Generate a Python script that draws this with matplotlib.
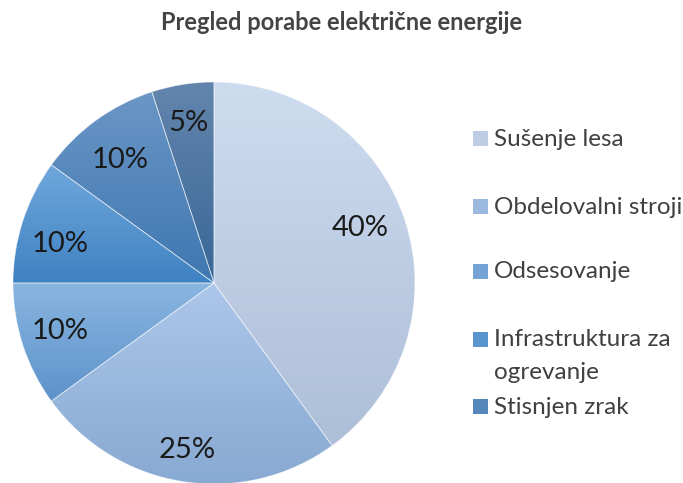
import matplotlib
matplotlib.use("Agg")
import matplotlib.pyplot as plt
import numpy as np
from matplotlib.colors import LinearSegmentedColormap, to_rgb
from matplotlib.patches import Rectangle

categories = ["Sušenje lesa", "Obdelovalni stroji", "Odsesovanje",
              "Infrastruktura za\nogrevanje", "Stisnjen zrak", ""]
values = [40, 25, 10, 10, 10, 5]
labels = ["40%", "25%", "10%", "10%", "10%", "5%"]
title = "Pregled porabe električne energije"

grad_top = ["#CEDCEF", "#ADC7E9", "#8AB6E1", "#70A8DC", "#6B96C6", "#6385AD"]
grad_bot = ["#ADBED8", "#88A9D2", "#5D93CA", "#3F82C2", "#3E77B0", "#386797"]

plt.rcParams['font.family'] = ['Lato', 'DejaVu Sans']

fig = plt.figure(figsize=(6.83, 4.83), dpi=100)
W, H = 683, 483
cx, cy, r = 214, 283, 201
ax = fig.add_axes([(cx - r) / W, (H - cy - r) / H, 2 * r / W, 2 * r / H])

wedges, _ = ax.pie(values, startangle=90, counterclock=False, radius=1,
                   colors=grad_top, wedgeprops=dict(linewidth=0.6, edgecolor=(1, 1, 1, 0.5)))
ax.set_aspect('equal')
ax.axis('off')

grad = np.linspace(0, 1, 256).reshape(-1, 1)
for w, c0, c1 in zip(wedges, grad_top, grad_bot):
    w.set_facecolor('none')
    bb = w.get_path().get_extents(w.get_patch_transform())
    cmap = LinearSegmentedColormap.from_list("g", [c1, c0])
    im = ax.imshow(grad, cmap=cmap, extent=[bb.x0, bb.x1, bb.y0, bb.y1],
                   origin='lower', aspect='auto', zorder=0.5)
    im.set_clip_path(w)
    w.set_zorder(1)
ax.set_xlim(-1, 1)
ax.set_ylim(-1, 1)

# percentage labels (placement: radius and angle offset from slice middle)
label_r = [0.78, 0.83, 0.80, 0.79, 0.78, 0.82]
label_da = [3.5, -0.3, -1.4, 3.0, 1.0, -0.2]
for w, lab, lr, da in zip(wedges, labels, label_r, label_da):
    ang = np.deg2rad((w.theta1 + w.theta2) / 2 + da)
    ax.text(lr * np.cos(ang), lr * np.sin(ang), lab, ha='center', va='center_baseline',
            fontsize=21, color='#1a1a1a', zorder=3)

fig.text(0.5, 1 - 22 / H, title, ha='center', va='center', fontsize=17,
         fontweight='bold', color='#444444')

# legend
leg_y = [139, 207, 272, 340, 407]
for name, y, c0, c1 in zip(categories[:5], leg_y, grad_top, grad_bot):
    mid = tuple((np.array(to_rgb(c0)) + np.array(to_rgb(c1))) / 2)
    fig.patches.append(Rectangle((473 / W, 1 - (y + 7) / H), 15 / W, 15 / H,
                                 transform=fig.transFigure, facecolor=mid,
                                 edgecolor='none'))
    ty = y if "\n" not in name else y + 16
    fig.text(494 / W, 1 - ty / H, name, ha='left', va='center', fontsize=17.5,
             color='#404040', linespacing=1.66)

fig.savefig("out.png", dpi=100)
